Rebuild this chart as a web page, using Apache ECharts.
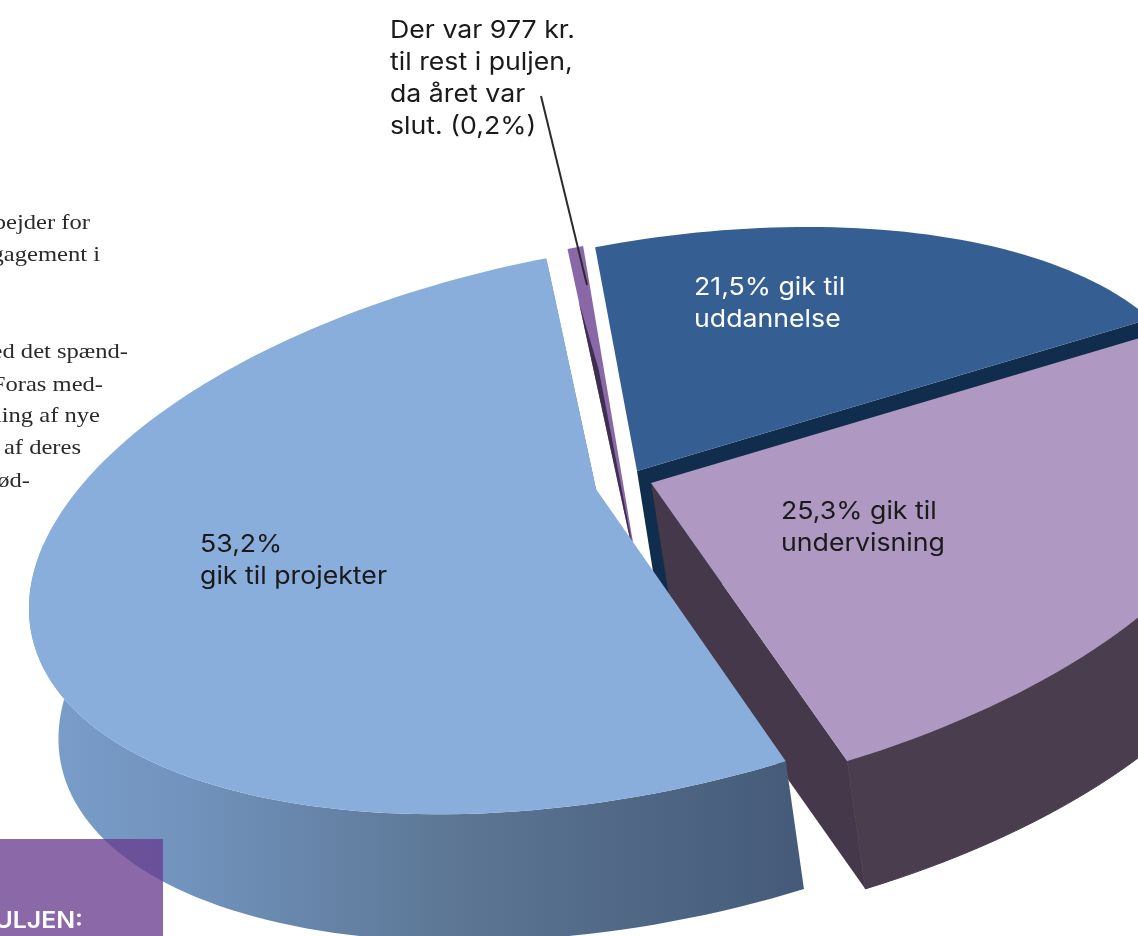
<!DOCTYPE html>
<html>
<head>
<meta charset="utf-8">
<title>Puljen</title>
<style>
html, body { margin: 0; padding: 0; background: #fff; overflow: hidden; }
#myEcharts { width: 1138px; height: 936px; }
</style>
<script src="https://cdn.jsdelivr.net/npm/echarts@6/dist/echarts.min.js"></script>
</head>
<body>
<div id="myEcharts"></div>
<script>
// data, clockwise from the top of the pie
var categories = ["uddannelse", "undervisning", "projekter", "rest i puljen"];
var shares = [21.5, 25.3, 53.2, 0.2];
var sliceLabels = ["21,5% gik til\nuddannelse", "25,3% gik til\nundervisning", "53,2%\ngik til projekter"];
var calloutLines = ["Der var 977 kr.", "til rest i puljen,", "da året var", "slut. (0,2%)"];
var bodyLines = ["bejder for", "gagement i", "ed det spænd-", "Foras med-", "ling af nye", "af deres", "ød-"];
var boxTitle = "ULJEN:";

// look of the slices, same order as categories
var apexes = [[637, 471], [651, 483], [596, 489], [641, 590]];
var radialScale = [0.96, 1.02, 1, 1.58];
var widthScale = [1, 1, 0.985, 1];
var topColors = ["#355f92", "#af98c2", "#8aaedc", "#8a68a8"];
var drawOrder = [0, 3, 1, 2];
var minAngle = 1.2;

// tilted pie seen in perspective
var radiusX = 585, radiusY = 268, perspective = 0.1356;
var tilt = 10.6 * Math.PI / 180;
var depth = [21, 132], depthScale = 0.985;

var project = function(index, deg, r) {
	var apex = apexes[index];
	var t = deg * Math.PI / 180;
	var X = r * Math.cos(t), Y = r * Math.sin(t);
	var s = 1 / (1 - perspective * Y);
	var lx = radiusX * widthScale[index] * X * s, ly = radiusY * Y * s;
	return [
		apex[0] + lx * Math.cos(tilt) + ly * Math.sin(tilt),
		apex[1] - lx * Math.sin(tilt) + ly * Math.cos(tilt)
	];
};

var lower = function(apex, p) {
	return [
		apex[0] + depth[0] + depthScale * (p[0] - apex[0]),
		apex[1] + depth[1] + depthScale * (p[1] - apex[1])
	];
};

var poly = function(points, fill, z2, stroke) {
	return {
		type: 'polygon',
		z2: z2,
		shape: { points: points },
		style: { fill: fill, stroke: stroke || null, lineWidth: 1 }
	};
};

var wallGradient = function(index) {
	if (index === 2) {
		return new echarts.graphic.LinearGradient(0, 0, 1, 0, [
			{ offset: 0, color: '#7b9ecb' },
			{ offset: 0.2, color: '#7193bd' },
			{ offset: 0.55, color: '#5c7694' },
			{ offset: 1, color: '#445a78' }
		]);
	}
	if (index === 1) return '#4a3e4e';
	if (index === 0) return '#112d4e';
	return '#3e2f50';
};

// start angle of every slice
var startAngles = [];
var total = shares.reduce(function(a, b) { return a + b; }, 0);
shares.reduce(function(sum, v, i) {
	startAngles[i] = -90 + sum / total * 360;
	return sum + v;
}, 0);

var renderSlice = function(params, api) {
	var index = api.value(0);
	var apex = apexes[index];
	var sweep = Math.max(api.value(1) / total * 360, minAngle);
	var from = startAngles[index];
	var r = radialScale[index];
	var z = drawOrder.indexOf(index) * 10;
	var rim = [], wallTop = [], wallLow = [];
	var steps = Math.max(4, Math.ceil(sweep / 1.5));
	for (var i = 0; i <= steps; i++) {
		var deg = from + sweep * i / steps;
		var p = project(index, deg, r);
		rim.push(p);
		// only the side facing the viewer is drawn
		if (Math.sin(deg * Math.PI / 180) > -0.2) {
			wallTop.push(p);
			wallLow.push(lower(apex, p));
		}
	}
	var wall = wallGradient(index);
	var children = [];
	if (index === 3) {
		// the sliver only shows a thin dark side along its left edge
		children.push(poly([apex].concat(rim), topColors[index], z + 1));
		children.push(poly([apex, project(index, from, r * 0.82), project(index, from + sweep * 0.5, r * 0.6)], wall, z + 2));
	} else {
		var end = rim[rim.length - 1];
		var endWall = index === 1 ? '#45384a' : wall;
		children.push(poly([apex, end, lower(apex, end), lower(apex, apex)], endWall, z));
		if (wallTop.length > 1) {
			children.push(poly(wallTop.concat(wallLow.slice().reverse()), wall, z + 1, index === 1 ? wall : null));
		}
		children.push(poly([apex].concat(rim), topColors[index], z + 2));
	}
	return { type: 'group', children: children };
};

// text
var textItem = function(text, x, y, font, fill, align, stretch) {
	return {
		type: 'text',
		x: x,
		y: y,
		z: 100,
		scaleX: stretch,
		style: {
			text: text,
			font: font,
			fill: fill,
			textAlign: align,
			textVerticalAlign: 'middle',
			lineHeight: 32
		}
	};
};

var labelFont = '400 24.5px Inter, sans-serif';
var labelStretch = 1.09;
var bodyFont = '21px "Liberation Serif", serif';
var bodyStretch = 1.17;
var bodyRight = [90, 100, 128, 103, 100, 81, 30];
var bodyY = [223, 255, 352, 385, 416, 448, 481];

var graphics = [{
	type: 'rect',
	z: 90,
	shape: { x: 0, y: 839, width: 163, height: 97 },
	style: { fill: 'rgba(104,59,142,0.77)' }
}, {
	type: 'line',
	z: 95,
	shape: { x1: 541, y1: 96, x2: 587, y2: 285 },
	style: { stroke: '#2b2b2b', lineWidth: 2 }
},
	textItem(sliceLabels[0], 694, 304, labelFont, '#ffffff', 'left', labelStretch),
	textItem(sliceLabels[1], 781, 528, labelFont, '#1a1a1a', 'left', labelStretch),
	textItem(sliceLabels[2], 200, 561, labelFont, '#1a1a1a', 'left', labelStretch),
	textItem(boxTitle, 83, 921, '600 23px Inter, sans-serif', '#ffffff', 'right', 1.08)
];
calloutLines.forEach(function(line, i) {
	graphics.push(textItem(line, 390, 31 + i * 32, labelFont, '#1a1a1a', 'left', labelStretch));
});
bodyLines.forEach(function(line, i) {
	graphics.push(textItem(line, bodyRight[i], bodyY[i], bodyFont, '#2a2a2a', 'right', bodyStretch));
});

var myChart = echarts.init(document.getElementById("myEcharts"), null, { renderer: 'canvas' });
myChart.setOption({
	animation: false,
	backgroundColor: '#ffffff',
	series: [{
		type: 'custom',
		coordinateSystem: 'none',
		renderItem: renderSlice,
		silent: true,
		clip: false,
		data: categories.map(function(name, i) {
			return { name: name, value: [i, shares[i]] };
		})
	}],
	graphic: graphics
});
</script>
</body>
</html>
